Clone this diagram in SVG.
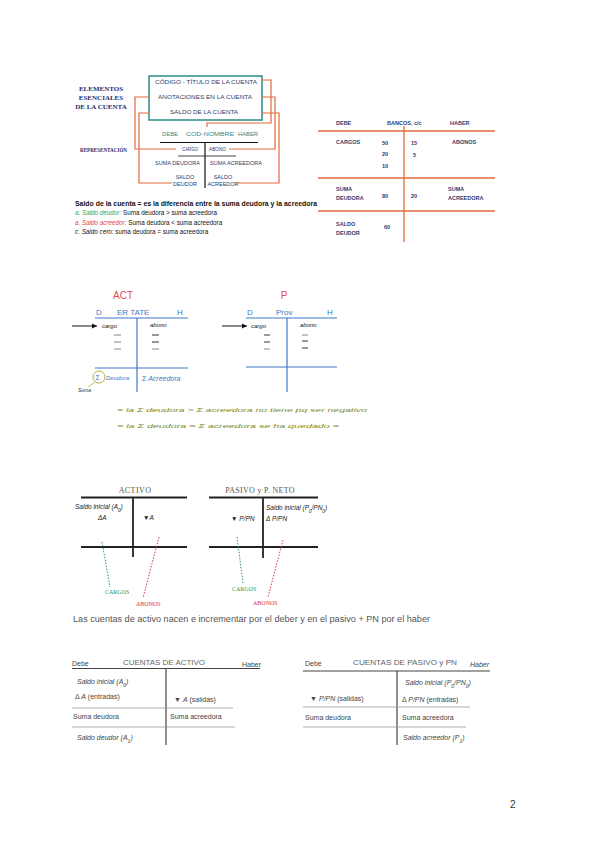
<svg xmlns="http://www.w3.org/2000/svg" width="600" height="848" viewBox="0 0 600 848">
<defs>
<style>
text{font-family:"Liberation Sans",Arial,sans-serif}
.navyserif{font-family:"Liberation Serif",serif;font-weight:bold;fill:#1f2f6b;font-size:7px}
.boxt{font-size:6px;fill:#2d3b70}
.teal{font-size:6px;fill:#2b8a8a}
.rep{font-size:5.5px;fill:#2d3b70}
.or{stroke:#e2693c;stroke-width:1.2;fill:none}
.blk{stroke:#111;fill:none}
.bt{font-size:5.5px;fill:#2d3b70;font-weight:bold}
.obl{stroke:#e2693c;stroke-width:1.3}
.st{font-size:6.3px;fill:#111}
.blue{stroke:#3c78c8;stroke-width:1.2;fill:none}
.bluet{fill:#3c78c8;font-size:8px}
.hw{font-style:italic;font-size:6px;fill:#111}
.dash{stroke:#888;stroke-width:1}
.dashd{stroke:#333;stroke-width:1}
.grn{fill:#7d8c1e;font-style:italic;font-size:6px}
.tk{stroke:#222;stroke-width:1.8;fill:none}
.serif{font-family:"Liberation Serif",serif}
.it{font-style:italic;font-size:6.5px;fill:#222}
.gd{stroke:#2a9a5a;stroke-width:1;stroke-dasharray:1.5 1.5;fill:none}
.rd{stroke:#d43a3a;stroke-width:1;stroke-dasharray:1.5 1.5;fill:none}
.tb{font-size:7px;fill:#444}
.tl{stroke:#444;stroke-width:1.2;fill:none}
.tl2{stroke:#999;stroke-width:0.8;fill:none}
</style>
<marker id="ah" markerWidth="6" markerHeight="6" refX="5" refY="3" orient="auto" markerUnits="userSpaceOnUse"><path d="M0,0.5 L5,3 L0,5.5 Z" fill="#111"/></marker>
</defs>
<rect width="600" height="848" fill="#fff"/>

<g id="elementos">
<text class="navyserif" x="101" y="91" text-anchor="middle">ELEMENTOS</text>
<text class="navyserif" x="101" y="100" text-anchor="middle">ESENCIALES</text>
<text class="navyserif" x="101" y="109" text-anchor="middle">DE LA CUENTA</text>
</g>
<g id="representacion">
<text class="navyserif" x="80" y="152" textLength="47" lengthAdjust="spacingAndGlyphs" font-size="7.5">REPRESENTACIÓN</text>
</g>
<g id="box-cuenta">
<rect x="149" y="76" width="113" height="44" fill="none" stroke="#2e8b84" stroke-width="1.5"/>
<text class="boxt" x="155" y="84" textLength="102" lengthAdjust="spacingAndGlyphs">CÓDIGO - TÍTULO DE LA CUENTA</text>
<text class="boxt" x="158" y="99" textLength="94" lengthAdjust="spacingAndGlyphs">ANOTACIONES EN LA CUENTA</text>
<text class="boxt" x="170" y="114" textLength="68" lengthAdjust="spacingAndGlyphs">SALDO DE LA CUENTA</text>
</g>
<g id="t-cuenta">
<text class="teal" x="162" y="136" textLength="16" lengthAdjust="spacingAndGlyphs">DEBE</text>
<text class="teal" x="186" y="136" textLength="48" lengthAdjust="spacingAndGlyphs">COD-NOMBRE</text>
<text class="teal" x="238" y="136" textLength="20" lengthAdjust="spacingAndGlyphs">HABER</text>
<line class="blk" x1="160" y1="142.5" x2="258" y2="142.5" stroke-width="1.2"/>
<line class="blk" x1="205" y1="142" x2="205" y2="188" stroke-width="1.2"/>
<text class="rep" x="182" y="151" textLength="16" lengthAdjust="spacingAndGlyphs">CARGO</text>
<text class="rep" x="209" y="151" textLength="17" lengthAdjust="spacingAndGlyphs">ABONO</text>
<line class="blk" x1="178" y1="156" x2="236" y2="156" stroke-width="0.8"/>
<text class="rep" x="155" y="165" textLength="45" lengthAdjust="spacingAndGlyphs">SUMA DEUDORA</text>
<text class="rep" x="210" y="165" textLength="52" lengthAdjust="spacingAndGlyphs">SUMA ACREEDORA</text>
<text class="rep" x="185" y="179" text-anchor="middle">SALDO</text>
<text class="rep" x="185" y="186" text-anchor="middle">DEUDOR</text>
<text class="rep" x="223" y="179" text-anchor="middle">SALDO</text>
<text class="rep" x="223" y="186" text-anchor="middle">ACREEDOR</text>
</g>
<g id="connectors-top">
<path class="or" d="M149,97 H135 V149 H176"/>
<path class="or" d="M149,113 H139 V183 H172"/>
<path class="or" d="M262,80 H271 V123 H207 V127"/>
<path class="or" d="M262,97 H275 V149 H229"/>
<path class="or" d="M262,113 H279 V183 H236"/>
</g>

<g id="bancos">
<text class="bt" x="336" y="125">DEBE</text>
<text class="bt" x="387" y="125">BANCOS, c/c</text>
<text class="bt" x="450" y="125">HABER</text>
<line class="obl" x1="318" y1="131" x2="495" y2="131"/>
<line class="obl" x1="318" y1="178" x2="495" y2="178"/>
<line class="obl" x1="318" y1="211" x2="495" y2="211"/>
<line class="obl" x1="404" y1="126" x2="404" y2="242"/>
<text class="bt" x="336" y="144">CARGOS</text>
<text class="bt" x="382" y="145">50</text>
<text class="bt" x="382" y="156">20</text>
<text class="bt" x="382" y="168">10</text>
<text class="bt" x="411" y="145">15</text>
<text class="bt" x="413" y="157">5</text>
<text class="bt" x="452" y="144">ABONOS</text>
<text class="bt" x="336" y="191">SUMA</text>
<text class="bt" x="336" y="200">DEUDORA</text>
<text class="bt" x="382" y="198">80</text>
<text class="bt" x="411" y="198">20</text>
<text class="bt" x="448" y="191">SUMA</text>
<text class="bt" x="448" y="200">ACREEDORA</text>
<text class="bt" x="336" y="226">SALDO</text>
<text class="bt" x="336" y="235">DEUDOR</text>
<text class="bt" x="384" y="229">60</text>
</g>

<g id="saldo-texto">
<text class="st" x="75" y="206" font-weight="bold" textLength="242" lengthAdjust="spacingAndGlyphs">Saldo de la cuenta = es la diferencia entre la suma deudora y la acreedora</text>
<text class="st" x="75" y="215"><tspan fill="#2aa86a" font-style="italic">a. Saldo deudor:</tspan> Suma deudora &gt; suma acreedora</text>
<text class="st" x="75" y="225"><tspan fill="#e0454f" font-style="italic">a. Saldo acreedor:</tspan> Suma deudora &lt; suma acreedora</text>
<text class="st" x="75" y="234"><tspan font-style="italic">c. Saldo cero:</tspan> suma deudora = suma acreedora</text>
</g>

<g id="act-hand">
<text x="123" y="299" text-anchor="middle" font-size="10" fill="#e04a55">ACT</text>
<text class="bluet" x="96" y="315">D</text>
<text class="bluet" x="117" y="315">ER TATE</text>
<text class="bluet" x="177" y="315">H</text>
<line class="blue" x1="95" y1="318" x2="188" y2="318"/>
<line class="blue" x1="137" y1="318" x2="137" y2="392"/>
<line class="blue" x1="95" y1="368" x2="188" y2="368"/>
<line x1="72" y1="326" x2="97" y2="326" stroke="#111" marker-end="url(#ah)"/>
<text class="hw" x="102" y="328">cargo</text>
<text class="hw" x="150" y="327">abono</text>
<line class="dash" x1="114" y1="335" x2="121" y2="335"/>
<line class="dash" x1="114" y1="342" x2="121" y2="342"/>
<line class="dash" x1="114" y1="349" x2="121" y2="349"/>
<line class="dashd" x1="152" y1="335" x2="159" y2="335"/>
<line class="dashd" x1="152" y1="342" x2="159" y2="342"/>
<line class="dash" x1="152" y1="349" x2="159" y2="349"/>
<circle cx="99" cy="377" r="6" fill="none" stroke="#b8b040" stroke-width="1"/>
<text x="95.5" y="380" font-size="7" fill="#3c78c8">Σ</text>
<text x="106" y="380" font-size="6" fill="#3c78c8" font-style="italic">Deudora</text>
<text x="142" y="381" font-size="7" fill="#3c78c8" font-style="italic">Σ Acreedora</text>
<line x1="95" y1="382" x2="88" y2="387" stroke="#b8b040" stroke-width="0.8"/>
<text x="78" y="392" font-size="5" font-style="italic" fill="#333">Suma</text>
</g>

<g id="p-hand">
<text x="284" y="299" text-anchor="middle" font-size="10" fill="#e04a55">P</text>
<text class="bluet" x="247" y="315">D</text>
<text class="bluet" x="276" y="315" font-size="7">Prov</text>
<text class="bluet" x="327" y="315">H</text>
<line class="blue" x1="246" y1="318" x2="337" y2="318"/>
<line class="blue" x1="287" y1="318" x2="287" y2="392"/>
<line class="blue" x1="246" y1="367" x2="337" y2="367"/>
<line x1="222" y1="326" x2="247" y2="326" stroke="#111" marker-end="url(#ah)"/>
<text class="hw" x="251" y="328">cargo</text>
<text class="hw" x="300" y="327">abono</text>
<line class="dashd" x1="264" y1="335" x2="270" y2="335"/>
<line class="dashd" x1="264" y1="342" x2="270" y2="342"/>
<line class="dash" x1="264" y1="349" x2="270" y2="349"/>
<line class="dash" x1="302" y1="335" x2="308" y2="335"/>
<line class="dashd" x1="302" y1="341" x2="308" y2="341"/>
<line class="dashd" x1="302" y1="348" x2="308" y2="348"/>
</g>

<g id="notas-hand">
<text class="grn" x="117" y="412" textLength="250" lengthAdjust="spacingAndGlyphs">= la Σ deudora &gt; Σ acreedora no tiene pq ser negativo</text>
<text class="grn" x="117" y="428" textLength="222" lengthAdjust="spacingAndGlyphs">= la Σ deudora = Σ acreedora se ha quedado =</text>
</g>

<g id="activo-t">
<text class="serif" x="135" y="493" text-anchor="middle" font-size="8" fill="#555" letter-spacing="0.4">ACTIVO</text>
<line class="tk" x1="81" y1="497.5" x2="187" y2="497.5"/>
<line class="tk" x1="133" y1="497" x2="133" y2="557"/>
<line class="tk" x1="81" y1="547" x2="187" y2="547"/>
<text class="it" x="75" y="509">Saldo inicial (A<tspan baseline-shift="sub" font-size="4.5">0</tspan>)</text>
<text class="it" x="98" y="520" font-style="normal">ΔA</text>
<text class="it" x="143" y="520" font-size="7.5">▼<tspan font-style="italic">A</tspan></text>
</g>
<g id="pasivo-t">
<text class="serif" x="260" y="493" text-anchor="middle" font-size="8" fill="#555" letter-spacing="0.3">PASIVO y P. NETO</text>
<line class="tk" x1="209" y1="497.5" x2="318" y2="497.5"/>
<line class="tk" x1="263" y1="497" x2="263" y2="558"/>
<line class="tk" x1="209" y1="547" x2="318" y2="547"/>
<text class="it" x="266" y="510">Saldo inicial (P<tspan baseline-shift="sub" font-size="4.5">0</tspan>/PN<tspan baseline-shift="sub" font-size="4.5">0</tspan>)</text>
<text class="it" x="231" y="521">▼ P/PN</text>
<text class="it" x="266" y="521">Δ P/PN</text>
</g>
<g id="connectors-cargos">
<line class="gd" x1="102" y1="542" x2="110" y2="587"/>
<line class="rd" x1="159" y1="537" x2="143" y2="598"/>
<line class="gd" x1="237" y1="537" x2="243" y2="583"/>
<line class="rd" x1="283" y1="540" x2="268" y2="597"/>
</g>
<g id="etiquetas-cargos">
<text class="serif" x="105" y="594" font-size="6" fill="#2a9a5a">CARGOS</text>
<text class="serif" x="136" y="606" font-size="6" fill="#d43a3a">ABONOS</text>
<text class="serif" x="232" y="591" font-size="6" fill="#2a9a5a">CARGOS</text>
<text class="serif" x="253" y="605" font-size="6" fill="#d43a3a">ABONOS</text>
</g>
<g id="frase">
<text x="73" y="622" font-size="8.5" fill="#555" textLength="357" lengthAdjust="spacingAndGlyphs">Las cuentas de activo nacen e incrementar por el deber y en el pasivo + PN por el haber</text>
</g>

<g id="tabla-activo">
<text class="tb" x="72" y="666" font-size="6.5" fill="#333">Debe</text>
<text x="123" y="665" font-size="7.5" fill="#666" textLength="82" lengthAdjust="spacingAndGlyphs">CUENTAS DE ACTIVO</text>
<text class="tb" x="242" y="667" font-size="6.5" fill="#333">Haber</text>
<line class="tl" x1="72" y1="668.5" x2="260" y2="668.5"/>
<line class="tl" x1="166" y1="668" x2="166" y2="745"/>
<text class="tb" x="77" y="684" font-style="italic">Saldo inicial (A<tspan baseline-shift="sub" font-size="5">0</tspan>)</text>
<text class="tb" x="75" y="699">Δ <tspan font-style="italic">A</tspan> (entradas)</text>
<text class="tb" x="174" y="702">▼ <tspan font-style="italic">A</tspan> (salidas)</text>
<line class="tl2" x1="72" y1="708" x2="233" y2="708"/>
<text class="tb" x="73" y="719">Suma deudora</text>
<text class="tb" x="170" y="719">Suma acreedora</text>
<line class="tl2" x1="72" y1="727" x2="235" y2="727"/>
<text class="tb" x="77" y="740" font-style="italic">Saldo deudor (A<tspan baseline-shift="sub" font-size="5">1</tspan>)</text>
</g>
<g id="tabla-pasivo">
<text class="tb" x="305" y="666" font-size="6.5" fill="#333">Debe</text>
<text x="353" y="665" font-size="7.5" fill="#666" textLength="104" lengthAdjust="spacingAndGlyphs">CUENTAS DE PASIVO y PN</text>
<text class="tb" x="470" y="667" font-size="6.5" fill="#555" font-style="italic">Haber</text>
<line class="tl" x1="303" y1="671" x2="490" y2="671"/>
<line class="tl" x1="397" y1="671" x2="397" y2="745"/>
<text class="tb" x="405" y="685" font-style="italic">Saldo inicial (P<tspan baseline-shift="sub" font-size="5">0</tspan>/PN<tspan baseline-shift="sub" font-size="5">0</tspan>)</text>
<text class="tb" x="310" y="701" font-size="6.5">▼ <tspan font-style="italic">P/PN</tspan> (salidas)</text>
<text class="tb" x="402" y="702">Δ <tspan font-style="italic">P/PN</tspan> (entradas)</text>
<line class="tl2" x1="303" y1="707" x2="470" y2="707"/>
<text class="tb" x="305" y="720">Suma deudora</text>
<text class="tb" x="402" y="720">Suma acreedora</text>
<line class="tl2" x1="303" y1="727" x2="466" y2="727"/>
<text class="tb" x="403" y="740" font-style="italic">Saldo acreedor (P<tspan baseline-shift="sub" font-size="5">1</tspan>)</text>
</g>

<g id="pagina">
<text x="510" y="808" font-size="10" fill="#333">2</text>
</g>
</svg>
